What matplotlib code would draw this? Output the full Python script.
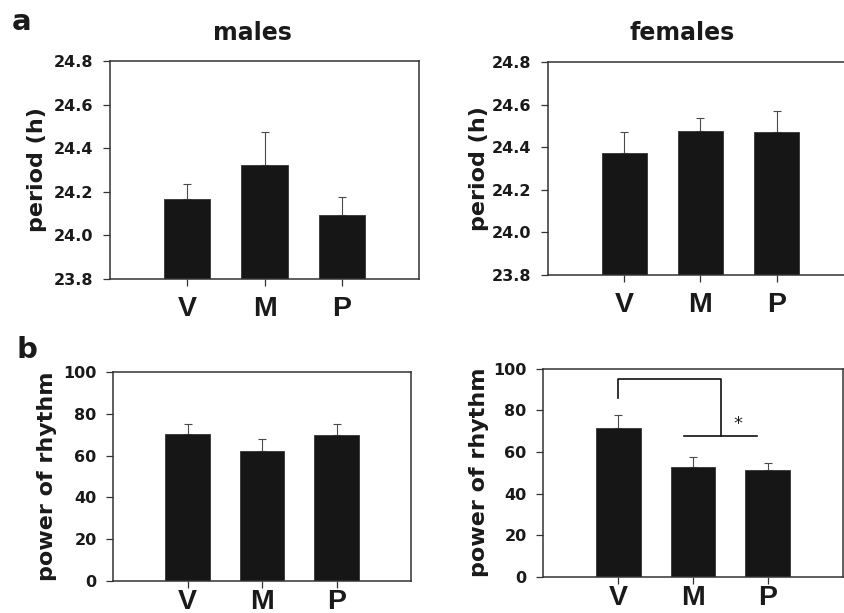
import matplotlib.pyplot as plt
import numpy as np

groups = ["V", "M", "P"]

# a: period (h)
period_males = [24.165, 24.325, 24.093]
period_males_err = [0.070, 0.150, 0.085]
period_females = [24.375, 24.475, 24.473]
period_females_err = [0.095, 0.062, 0.097]

# b: power of rhythm
power_males = [70.2, 62.3, 69.9]
power_males_err = [5.1, 5.5, 5.1]
power_females = [71.6, 52.9, 51.3]
power_females_err = [6.1, 4.8, 3.5]

# significance bracket (females, V vs M+P)
bracket_x = [1.0, 1.0, 2.375, 2.375]
bracket_y = [85.8, 95.2, 95.2, 67.8]
bar_line_x = [1.88, 2.85]
bar_line_y = 67.8
star_xy = (2.6, 69.0)

x = np.arange(1, 4)
dark = "#161616"

fig = plt.figure(figsize=(8.45, 6.13), dpi=100)

def panel(rect, vals, errs, ylim, yticks, fmt, ylabel, labx, xpad):
    ax = fig.add_axes(rect)
    ax.bar(x, vals, width=0.6, color=dark, edgecolor="#333333", linewidth=0.6, zorder=2)
    ax.errorbar(x, vals, yerr=[np.zeros(3), errs], fmt="none", ecolor="#4a4a4a",
                elinewidth=0.8, capsize=3, capthick=0.8, zorder=1)
    ax.set_xlim(0, 4)
    ax.set_ylim(*ylim)
    ax.set_yticks(yticks)
    ax.set_yticklabels([fmt.format(v) for v in yticks],
                       fontsize=11.5, fontweight="bold", color="#1a1a1a")
    ax.set_xticks(x)
    ax.set_xticklabels(groups, fontsize=20.5, fontweight="bold", color="#1a1a1a",
                       family="Liberation Sans")
    ax.tick_params(axis="y", direction="out", length=5, width=0.9, pad=7, color="#333333")
    ax.tick_params(axis="x", direction="out", length=5, width=0.9, pad=xpad, color="#333333")
    for s in ax.spines.values():
        s.set_color("#333333")
        s.set_linewidth(1.1)
    ax.set_ylabel(ylabel, fontsize=16, fontweight="bold", color="#1a1a1a")
    ax.yaxis.label.set_verticalalignment("center")
    ax.yaxis.set_label_coords(labx, 0.5)
    return ax

panel([0.1302, 0.5449, 0.3657, 0.3556], period_males, period_males_err,
      (23.8, 24.8), np.arange(23.8, 24.81, 0.2), "{:.1f}", "period (h)", -0.236, 7)
panel([0.6489, 0.5514, 0.3601, 0.3475], period_females, period_females_err,
      (23.8, 24.8), np.arange(23.8, 24.81, 0.2), "{:.1f}", "period (h)", -0.228, 7)
panel([0.1341, 0.0522, 0.3523, 0.3409], power_males, power_males_err,
      (0, 100), np.arange(0, 101, 20), "{:.0f}", "power of rhythm", -0.224, 1)
axf = panel([0.6430, 0.0592, 0.3543, 0.3393], power_females, power_females_err,
            (0, 100), np.arange(0, 101, 20), "{:.0f}", "power of rhythm", -0.215, 1)

axf.plot(bracket_x, bracket_y, color="#111111", lw=1.2)
axf.plot(bar_line_x, [bar_line_y, bar_line_y], color="#111111", lw=1.2)
axf.text(*star_xy, "*", ha="center", va="bottom", fontsize=13, color="#222222")

fig.text(0.299, 0.9347, "males", ha="center", va="baseline", fontsize=17,
         fontweight="bold", color="#1a1a1a")
fig.text(0.807, 0.9347, "females", ha="center", va="baseline", fontsize=17,
         fontweight="bold", color="#1a1a1a")
fig.text(0.014, 0.951, "a", ha="left", va="baseline", fontsize=21,
         fontweight="bold", color="#1a1a1a")
fig.text(0.020, 0.416, "b", ha="left", va="baseline", fontsize=21,
         fontweight="bold", color="#1a1a1a")

fig.savefig("out.png", dpi=100)
